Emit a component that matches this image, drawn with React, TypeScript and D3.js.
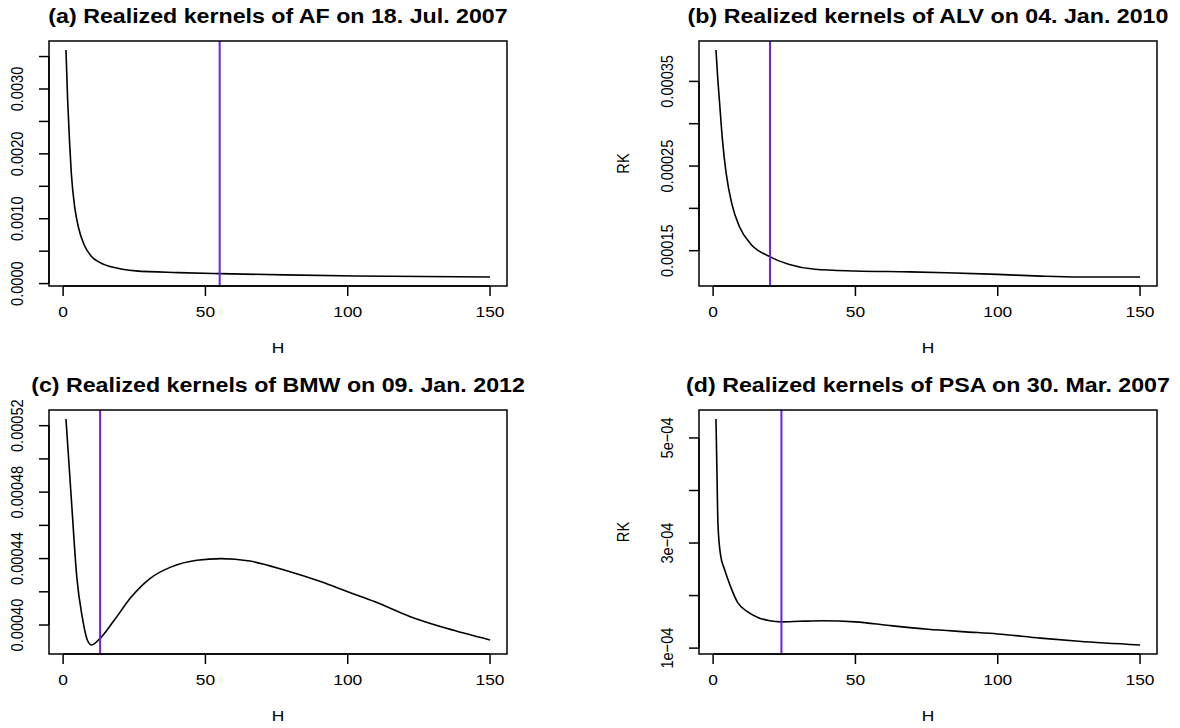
import React from "react";
import * as d3 from "d3";

// Realized kernel estimates as a function of the bandwidth H, one series per stock/day.
const hAF = [1, 1.6, 2.3, 2.9, 4.1, 5.4, 7.3, 9.8, 13, 18, 25.5, 40.5, 55, 78, 103, 150];
const rkAF = [0.0036, 0.00282, 0.00215, 0.00169, 0.00117, 0.000865, 0.000607, 0.000427, 0.000324, 0.000247, 0.000196, 0.00017, 0.000154, 0.000134, 0.000118, 0.000103];

const hALV = [1, 1.6, 2.4, 3.3, 4.6, 6.6, 9.3, 13.2, 19.9, 26.5, 35.8, 50, 69, 82, 100, 115, 128.5, 150];
const rkALV = [0.000387, 0.000355, 0.000319, 0.00028, 0.000241, 0.000205, 0.000178, 0.000158, 0.000143, 0.000134, 0.000128, 0.000126, 0.000125, 0.000124, 0.000122, 0.00012, 0.000119, 0.000119];

const hBMW = [1, 3, 4.8, 6.7, 8.5, 10, 13, 18, 24, 30.5, 38, 47, 55.6, 65.6, 78, 90.7, 100, 109.6, 122, 134.7, 150];
const rkBMW = [0.000524, 0.000473, 0.000429, 0.000405, 0.000391, 0.000388, 0.000392, 0.000403, 0.000417, 0.000428, 0.000435, 0.000439, 0.00044, 0.0004385, 0.000433, 0.000426, 0.00042, 0.000414, 0.000405, 0.000398, 0.000391];

const hPSA = [1, 1.3, 1.7, 2.65, 4, 6, 8.6, 11.9, 15.9, 19.9, 23.9, 30.5, 38.4, 50, 62, 75.5, 88.8, 100, 115, 128.5, 150];
const rkPSA = [0.000536, 0.00045, 0.000336, 0.000276, 0.00025, 0.000219, 0.000187, 0.00017, 0.000158, 0.000152, 0.00015, 0.000151, 0.000152, 0.00015, 0.000143, 0.000136, 0.000131, 0.000127, 0.000119, 0.000113, 0.000106];

// Selected bandwidths (vertical markers)
const selectedH = [55, 20, 13, 24];

const titles = [
  "(a) Realized kernels of AF on 18. Jul. 2007",
  "(b) Realized kernels of ALV on 04. Jan. 2010",
  "(c) Realized kernels of BMW on 09. Jan. 2012",
  "(d) Realized kernels of PSA on 30. Mar. 2007",
];

// Axis ticks
const xTicks = [0, 50, 100, 150];
const yTicksAF = [0, 0.0005, 0.001, 0.0015, 0.002, 0.0025, 0.003, 0.0035];
const yLabelsAF = ["0.0000", "", "0.0010", "", "0.0020", "", "0.0030", ""];
const yTicksALV = [0.00015, 0.0002, 0.00025, 0.0003, 0.00035];
const yLabelsALV = ["0.00015", "", "0.00025", "", "0.00035"];
const yTicksBMW = [0.0004, 0.00042, 0.00044, 0.00046, 0.00048, 0.0005, 0.00052];
const yLabelsBMW = ["0.00040", "", "0.00044", "", "0.00048", "", "0.00052"];
const yTicksPSA = [0.0001, 0.0002, 0.0003, 0.0004, 0.0005];
const yLabelsPSA = ["1e\u221204", "", "3e\u221204", "", "5e\u221204"];

const FONT = "'Liberation Sans', Arial, Helvetica, sans-serif";
const MARK = "#6b1dfa";
// glyphs are slightly wider than tall in this figure
const SX = 1.19;
const AXIS_FS = 14.6;
const TITLE_FS = 19.5;

type Panel = {
  h: number[];
  rk: number[];
  vline: number;
  title: string;
  yTicks: number[];
  yLabels: string[];
  showYLab: boolean;
  left: number;
  top: number;
  right: number;
  bottom: number;
};

const panels: Panel[] = [
  { h: hAF, rk: rkAF, vline: selectedH[0], title: titles[0], yTicks: yTicksAF, yLabels: yLabelsAF, showYLab: false, left: 49, top: 41, right: 507, bottom: 286 },
  { h: hALV, rk: rkALV, vline: selectedH[1], title: titles[1], yTicks: yTicksALV, yLabels: yLabelsALV, showYLab: true, left: 699, top: 41, right: 1157, bottom: 286 },
  { h: hBMW, rk: rkBMW, vline: selectedH[2], title: titles[2], yTicks: yTicksBMW, yLabels: yLabelsBMW, showYLab: false, left: 49, top: 410, right: 507, bottom: 654 },
  { h: hPSA, rk: rkPSA, vline: selectedH[3], title: titles[3], yTicks: yTicksPSA, yLabels: yLabelsPSA, showYLab: true, left: 699, top: 410, right: 1157, bottom: 654 },
];

// R-style axis range: data extent padded by 4% on each side
function padded(ext: [number, number]): [number, number] {
  const d = (ext[1] - ext[0]) * 0.04;
  return [ext[0] - d, ext[1] + d];
}

function HText({ x, y, size, bold, children }: { x: number; y: number; size: number; bold?: boolean; children: React.ReactNode }) {
  return (
    <text
      transform={`translate(${x},${y}) scale(${SX},1)`}
      textAnchor="middle"
      fontFamily={FONT}
      fontWeight={bold ? "bold" : "normal"}
      fontSize={size}
    >
      {children}
    </text>
  );
}

function VText({ x, y, size, children }: { x: number; y: number; size: number; children: React.ReactNode }) {
  return (
    <text transform={`translate(${x},${y}) scale(${SX},1) rotate(-90)`} textAnchor="middle" fontFamily={FONT} fontSize={size}>
      {children}
    </text>
  );
}

function PanelPlot({ p }: { p: Panel }) {
  const x = d3.scaleLinear().domain(padded(d3.extent(p.h) as [number, number])).range([p.left, p.right]);
  const y = d3.scaleLinear().domain(padded(d3.extent(p.rk) as [number, number])).range([p.bottom, p.top]);
  const pts = p.h.map((h, i) => [h, p.rk[i]] as [number, number]);
  const line = d3
    .line<[number, number]>()
    .x((d) => x(d[0]))
    .y((d) => y(d[1]))
    .curve(d3.curveMonotoneX);
  const tickLen = 10;
  const cx = (p.left + p.right) / 2;
  const cy = (p.top + p.bottom) / 2;
  const halfCap = 0.358 * AXIS_FS * SX;
  return (
    <g>
      <HText x={cx} y={p.top - 18} size={TITLE_FS} bold>
        {p.title}
      </HText>
      <path d={line(pts) ?? ""} fill="none" stroke="#000" strokeWidth={1.6} />
      <line x1={x(p.vline)} x2={x(p.vline)} y1={p.top} y2={p.bottom} stroke={MARK} strokeWidth={2} />
      <rect x={p.left} y={p.top} width={p.right - p.left} height={p.bottom - p.top} fill="none" stroke="#000" strokeWidth={1.5} />
      {/* x axis */}
      <line x1={x(xTicks[0])} x2={x(xTicks[xTicks.length - 1])} y1={p.bottom} y2={p.bottom} stroke="#000" strokeWidth={1.5} />
      {xTicks.map((t) => (
        <g key={"x" + t}>
          <line x1={x(t)} x2={x(t)} y1={p.bottom} y2={p.bottom + tickLen} stroke="#000" strokeWidth={1.5} />
          <HText x={x(t)} y={p.bottom + 31} size={AXIS_FS}>
            {t}
          </HText>
        </g>
      ))}
      <HText x={cx} y={p.bottom + 67} size={AXIS_FS}>
        H
      </HText>
      {/* y axis */}
      <line x1={p.left} x2={p.left} y1={y(p.yTicks[0])} y2={y(p.yTicks[p.yTicks.length - 1])} stroke="#000" strokeWidth={1.5} />
      {p.yTicks.map((t, i) => (
        <g key={"y" + i}>
          <line x1={p.left - tickLen} x2={p.left} y1={y(t)} y2={y(t)} stroke="#000" strokeWidth={1.5} />
          {p.yLabels[i] ? (
            <VText x={p.left - 32 + halfCap} y={y(t)} size={AXIS_FS}>
              {p.yLabels[i]}
            </VText>
          ) : null}
        </g>
      ))}
      {p.showYLab ? (
        <VText x={p.left - 76 + halfCap} y={cy} size={AXIS_FS}>
          RK
        </VText>
      ) : null}
    </g>
  );
}

export default function App() {
  return (
    <svg width={1180} height={728} style={{ position: "absolute", left: 0, top: 0, background: "#fff" }}>
      <rect width={1180} height={728} fill="#fff" />
      {panels.map((p, i) => (
        <PanelPlot key={i} p={p} />
      ))}
    </svg>
  );
}
